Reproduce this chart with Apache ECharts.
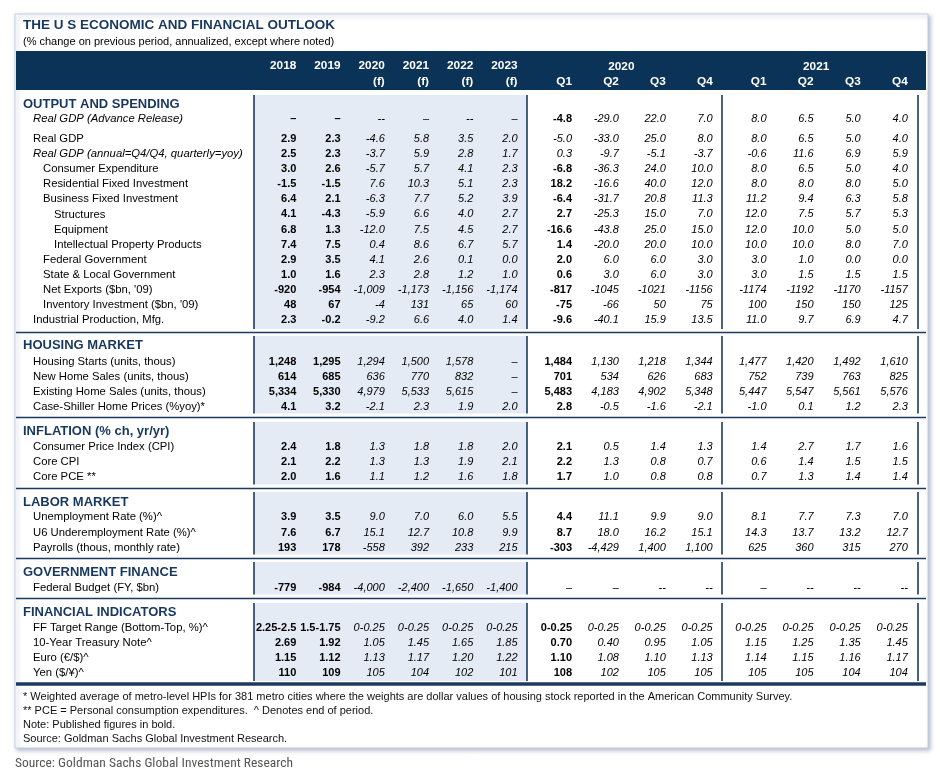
<!DOCTYPE html>
<html><head><meta charset="utf-8">
<script src="https://cdn.jsdelivr.net/npm/echarts@6/dist/echarts.min.js"></script>
<style>html,body{margin:0;padding:0;background:#fff}#c{width:940px;height:784px}</style>
</head><body><div id="c"></div>
<script>
// ---------------- DATA ----------------
const annualYears = ['2018','2019','2020','2021','2022','2023'];
const annualNotes = ['','','(f)','(f)','(f)','(f)'];
const quarterLabels = ['Q1','Q2','Q3','Q4'];
const quarterYears = ['2020','2021'];

const sectionTitles = ['OUTPUT AND SPENDING','HOUSING MARKET','INFLATION (% ch, yr/yr)','LABOR MARKET','GOVERNMENT FINANCE','FINANCIAL INDICATORS'];

const advLabels = ['Real GDP (Advance Release)'];
const advAnnual = [['–','–','--','–','--','–']];
const advQ2020 = [['-4.8','-29.0','22.0','7.0']];
const advQ2021 = [['8.0','6.5','5.0','4.0']];

const outputLabels = ['Real GDP','Real GDP (annual=Q4/Q4, quarterly=yoy)','Consumer Expenditure','Residential Fixed Investment','Business Fixed Investment','Structures','Equipment','Intellectual Property Products','Federal Government','State & Local Government',"Net Exports ($bn, '09)","Inventory Investment ($bn, '09)",'Industrial Production, Mfg.'];
const outputAnnual = [
 ['2.9','2.3','-4.6','5.8','3.5','2.0'],
 ['2.5','2.3','-3.7','5.9','2.8','1.7'],
 ['3.0','2.6','-5.7','5.7','4.1','2.3'],
 ['-1.5','-1.5','7.6','10.3','5.1','2.3'],
 ['6.4','2.1','-6.3','7.7','5.2','3.9'],
 ['4.1','-4.3','-5.9','6.6','4.0','2.7'],
 ['6.8','1.3','-12.0','7.5','4.5','2.7'],
 ['7.4','7.5','0.4','8.6','6.7','5.7'],
 ['2.9','3.5','4.1','2.6','0.1','0.0'],
 ['1.0','1.6','2.3','2.8','1.2','1.0'],
 ['-920','-954','-1,009','-1,173','-1,156','-1,174'],
 ['48','67','-4','131','65','60'],
 ['2.3','-0.2','-9.2','6.6','4.0','1.4']];
const outputQ2020 = [
 ['-5.0','-33.0','25.0','8.0'],
 ['0.3','-9.7','-5.1','-3.7'],
 ['-6.8','-36.3','24.0','10.0'],
 ['18.2','-16.6','40.0','12.0'],
 ['-6.4','-31.7','20.8','11.3'],
 ['2.7','-25.3','15.0','7.0'],
 ['-16.6','-43.8','25.0','15.0'],
 ['1.4','-20.0','20.0','10.0'],
 ['2.0','6.0','6.0','3.0'],
 ['0.6','3.0','6.0','3.0'],
 ['-817','-1045','-1021','-1156'],
 ['-75','-66','50','75'],
 ['-9.6','-40.1','15.9','13.5']];
const outputQ2021 = [
 ['8.0','6.5','5.0','4.0'],
 ['-0.6','11.6','6.9','5.9'],
 ['8.0','6.5','5.0','4.0'],
 ['8.0','8.0','8.0','5.0'],
 ['11.2','9.4','6.3','5.8'],
 ['12.0','7.5','5.7','5.3'],
 ['12.0','10.0','5.0','5.0'],
 ['10.0','10.0','8.0','7.0'],
 ['3.0','1.0','0.0','0.0'],
 ['3.0','1.5','1.5','1.5'],
 ['-1174','-1192','-1170','-1157'],
 ['100','150','150','125'],
 ['11.0','9.7','6.9','4.7']];

const housingLabels = ['Housing Starts (units, thous)','New Home Sales (units, thous)','Existing Home Sales (units, thous)','Case-Shiller Home Prices (%yoy)*'];
const housingAnnual = [
 ['1,248','1,295','1,294','1,500','1,578','–'],
 ['614','685','636','770','832','–'],
 ['5,334','5,330','4,979','5,533','5,615','–'],
 ['4.1','3.2','-2.1','2.3','1.9','2.0']];
const housingQ2020 = [
 ['1,484','1,130','1,218','1,344'],
 ['701','534','626','683'],
 ['5,483','4,183','4,902','5,348'],
 ['2.8','-0.5','-1.6','-2.1']];
const housingQ2021 = [
 ['1,477','1,420','1,492','1,610'],
 ['752','739','763','825'],
 ['5,447','5,547','5,561','5,576'],
 ['-1.0','0.1','1.2','2.3']];

const inflationLabels = ['Consumer Price Index (CPI)','Core CPI','Core PCE **'];
const inflationAnnual = [
 ['2.4','1.8','1.3','1.8','1.8','2.0'],
 ['2.1','2.2','1.3','1.3','1.9','2.1'],
 ['2.0','1.6','1.1','1.2','1.6','1.8']];
const inflationQ2020 = [['2.1','0.5','1.4','1.3'],['2.2','1.3','0.8','0.7'],['1.7','1.0','0.8','0.8']];
const inflationQ2021 = [['1.4','2.7','1.7','1.6'],['0.6','1.4','1.5','1.5'],['0.7','1.3','1.4','1.4']];

const laborLabels = ['Unemployment Rate (%)^','U6 Underemployment Rate (%)^','Payrolls (thous, monthly rate)'];
const laborAnnual = [
 ['3.9','3.5','9.0','7.0','6.0','5.5'],
 ['7.6','6.7','15.1','12.7','10.8','9.9'],
 ['193','178','-558','392','233','215']];
const laborQ2020 = [['4.4','11.1','9.9','9.0'],['8.7','18.0','16.2','15.1'],['-303','-4,429','1,400','1,100']];
const laborQ2021 = [['8.1','7.7','7.3','7.0'],['14.3','13.7','13.2','12.7'],['625','360','315','270']];

const govLabels = ['Federal Budget (FY, $bn)'];
const govAnnual = [['-779','-984','-4,000','-2,400','-1,650','-1,400']];
const govQ2020 = [['–','–','--','--']];
const govQ2021 = [['–','--','--','--']];

const finLabels = ['FF Target Range (Bottom-Top, %)^','10-Year Treasury Note^','Euro (€/$)^','Yen ($/¥)^'];
const finAnnual = [
 ['2.25-2.5','1.5-1.75','0-0.25','0-0.25','0-0.25','0-0.25'],
 ['2.69','1.92','1.05','1.45','1.65','1.85'],
 ['1.15','1.12','1.13','1.17','1.20','1.22'],
 ['110','109','105','104','102','101']];
const finQ2020 = [['0-0.25','0-0.25','0-0.25','0-0.25'],['0.70','0.40','0.95','1.05'],['1.10','1.08','1.10','1.13'],['108','102','105','105']];
const finQ2021 = [['0-0.25','0-0.25','0-0.25','0-0.25'],['1.15','1.25','1.35','1.45'],['1.14','1.15','1.16','1.17'],['105','105','104','104']];

const footnotes = [
 '* Weighted average of metro-level HPIs for 381 metro cities where the weights are dollar values of housing stock reported in the American Community Survey.',
 '** PCE = Personal consumption expenditures.  ^ Denotes end of period.',
 'Note: Published figures in bold.',
 'Source: Goldman Sachs Global Investment Research.'];
const titleText = 'THE U S ECONOMIC AND FINANCIAL OUTLOOK';
const subtitleText = '(% change on previous period, annualized, except where noted)';
const sourceText = 'Source: Goldman Sachs Global Investment Research';

// style hints (not data)
const italicLabels = ['Real GDP (Advance Release)','Real GDP (annual=Q4/Q4, quarterly=yoy)'];
const indent1 = ['Consumer Expenditure','Residential Fixed Investment','Business Fixed Investment','Federal Government','State & Local Government',"Net Exports ($bn, '09)","Inventory Investment ($bn, '09)"];
const indent2 = ['Structures','Equipment','Intellectual Property Products'];
const q1NotPublished = ['Real GDP','Real GDP (annual=Q4/Q4, quarterly=yoy)','Federal Budget (FY, $bn)'];

// ---------------- LAYOUT ----------------
const FONT = "'Liberation Sans', Arial, sans-serif";
const NAVY = '#0b3358';
const LINE = '#1c3a5e';
const LBL = 11.3;
const blocks = [
 {labels:advLabels, vals:[advAnnual,advQ2020,advQ2021], y0:119, rh:15},
 {labels:outputLabels, vals:[outputAnnual,outputQ2020,outputQ2021], y0:139, rh:15.08},
 {labels:housingLabels, vals:[housingAnnual,housingQ2020,housingQ2021], y0:362, rh:15},
 {labels:inflationLabels, vals:[inflationAnnual,inflationQ2020,inflationQ2021], y0:447, rh:15},
 {labels:laborLabels, vals:[laborAnnual,laborQ2020,laborQ2021], y0:517, rh:15.6},
 {labels:govLabels, vals:[govAnnual,govQ2020,govQ2021], y0:588, rh:15},
 {labels:finLabels, vals:[finAnnual,finQ2020,finQ2021], y0:628, rh:15.1}
];
const sections = [
 {hy:104, top:95, bot:329, div:332.5},
 {hy:345.5, top:336, bot:413.5, div:417.5},
 {hy:431, top:422, bot:484.5, div:488.5},
 {hy:502, top:492, bot:554.5, div:558.5},
 {hy:572, top:562, bot:594.5, div:598.5},
 {hy:612, top:603, bot:681, div:684, thick:true}
];
const groups = [
 {c0:296.3, step:44.25, n:6},
 {c0:572, step:46.9, n:4},
 {c0:766.5, step:47.1, n:4}
];
const LABEL_X = 33;

const grids = [], xAxes = [], yAxes = [], series = [];
blocks.forEach((b, bi) => {
  groups.forEach((g, gi) => {
    const idx = grids.length;
    const left = g.c0 - g.step/2;
    const top = b.y0 - b.rh/2;
    grids.push({left:left, top:top, width:g.n*g.step, height:b.labels.length*b.rh, outerBoundsMode:'none', containLabel:false});
    const isHead = bi === 0;
    const xa = {type:'category', gridIndex:idx, boundaryGap:true, position:'top', z:50,
      data: gi === 0 ? annualYears.slice() : quarterLabels.slice(),
      axisLine:{show:false}, axisTick:{show:false}, splitLine:{show:false},
      axisLabel:{show:isHead, interval:0, align:'right', color:'#fff', fontWeight:'bold', fontFamily:FONT, fontSize:11.8, lineHeight:16, margin:22,
        formatter: gi === 0 ? ((v, i) => v + '\n' + (annualNotes[i] || ' ')) : (v => v)}
    };
    if (isHead && gi > 0) {
      xa.name = quarterYears[gi-1];
      xa.nameLocation = 'middle';
      xa.nameGap = 39;
      xa.nameTextStyle = {color:'#fff', fontWeight:'bold', fontFamily:FONT, fontSize:11.8, padding:[0, 42, 0, 0]};
    }
    xAxes.push(xa);
    yAxes.push({type:'category', gridIndex:idx, inverse:true, data:b.labels.slice(), position:'left', z:50,
      axisLine:{show:false}, axisTick:{show:false}, splitLine:{show:false},
      axisLabel:{show: gi === 0, interval:0, align:'left', margin: left - LABEL_X, color:'#000', fontFamily:FONT, fontSize:LBL,
        formatter: v => {
          const lvl = indent2.includes(v) ? 2 : (indent1.includes(v) ? 1 : 0);
          const it = italicLabels.includes(v) ? 'i' : 'n';
          return '{' + it + lvl + '|' + v + '}';
        },
        rich:{
          n0:{fontFamily:FONT, fontSize:LBL, color:'#000'},
          n1:{fontFamily:FONT, fontSize:LBL, color:'#000', padding:[0,0,0,10]},
          n2:{fontFamily:FONT, fontSize:LBL, color:'#000', padding:[0,0,0,21]},
          i0:{fontFamily:FONT, fontSize:LBL, color:'#000', fontStyle:'italic'}
        }
      }
    });
    const rows = b.vals[gi];
    const cells = [];
    rows.forEach((r, ri) => r.forEach((t, ci) => {
      let bold;
      if (gi === 0) bold = ci < 2;
      else if (gi === 1) bold = ci === 0 && !q1NotPublished.includes(b.labels[ri]);
      else bold = false;
      cells.push({col:ci, row:ri, text:t, bold:bold});
    }));
    series.push({type:'custom', xAxisIndex:idx, yAxisIndex:idx, z:30, silent:true, clip:false, animation:false,
      data: cells.map(c => [c.col, c.row]),
      renderItem: (params, api) => {
        const c = cells[params.dataIndex];
        const p = api.coord([c.col, c.row]);
        return {type:'text', x:p[0], y:p[1], style:{text:c.text, align:'right', verticalAlign:'middle', fill:'#000',
          fontFamily:FONT, fontSize:11, fontWeight:c.bold?'bold':'normal', fontStyle:c.bold?'normal':'italic'}};
      }
    });
  });
});

// decorations
const graphic = [];
graphic.push({type:'rect', z:0, shape:{x:15, y:14, width:913, height:734}, style:{fill:'#fff', stroke:'#c3cedd', lineWidth:1, shadowBlur:4, shadowOffsetX:2, shadowOffsetY:2, shadowColor:'rgba(90,110,150,0.45)'}});
graphic.push({type:'rect', z:1, shape:{x:16, y:51, width:910, height:39}, style:{fill:NAVY}});
graphic.push({type:'text', z:3, x:23, y:25, style:{text:titleText, fill:'#17375e', fontFamily:FONT, fontWeight:'bold', fontSize:13.5, verticalAlign:'middle'}});
graphic.push({type:'text', z:3, x:23, y:42, style:{text:subtitleText, fill:'#000', fontFamily:FONT, fontSize:11, verticalAlign:'middle'}});
sections.forEach((s, si) => {
  graphic.push({type:'rect', z:1, shape:{x:254, y:s.top, width:273, height:s.bot - s.top}, style:{fill:'#e5ebf4'}});
  [254, 527, 722, 918].forEach(x => graphic.push({type:'line', z:2, shape:{x1:x, y1:s.top, x2:x, y2:s.bot}, style:{stroke:LINE, lineWidth:1.6}}));
  graphic.push({type:'line', z:2, shape:{x1:16, y1:s.div, x2:926, y2:s.div}, style:{stroke:LINE, lineWidth:s.thick ? 3.5 : 1.6}});
  graphic.push({type:'text', z:3, x:23, y:s.hy, style:{text:sectionTitles[si], fill:'#17375e', fontFamily:FONT, fontWeight:'bold', fontSize:13, verticalAlign:'middle'}});
});
const footY = [696.5, 710.5, 725, 739];
footnotes.forEach((t, i) => graphic.push({type:'text', z:3, x:23, y:footY[i], style:{text:t, fill:'#111', fontFamily:FONT, fontSize:11, verticalAlign:'middle'}}));
graphic.push({type:'text', z:3, x:15, y:764, style:{text:sourceText, fill:'#555', fontFamily:"'Liberation Sans Narrow', 'Roboto Condensed', Roboto, sans-serif", fontSize:13.5, verticalAlign:'middle'}});

const chart = echarts.init(document.getElementById('c'), null, {renderer:'canvas'});
chart.setOption({animation:false, backgroundColor:'#fff', graphic:graphic, grid:grids, xAxis:xAxes, yAxis:yAxes, series:series});
</script></body></html>
